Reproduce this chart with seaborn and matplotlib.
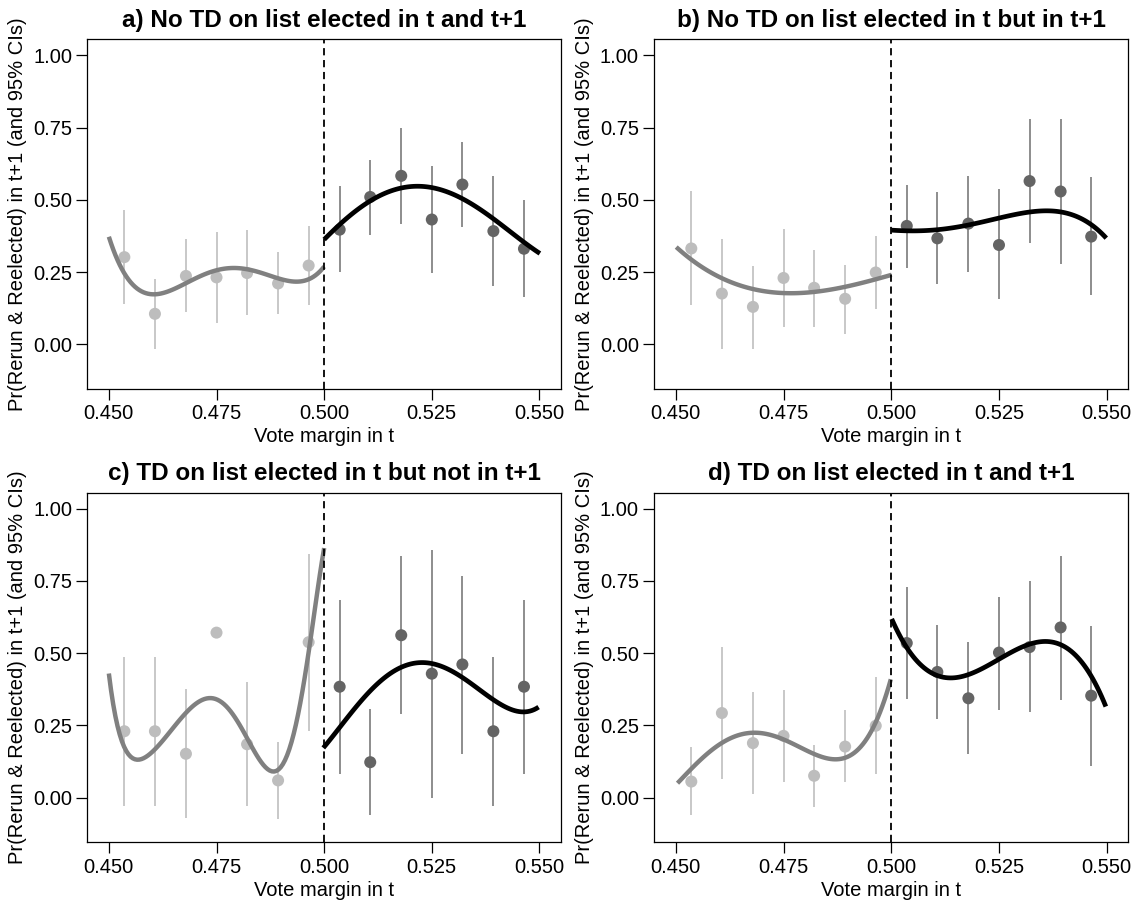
import numpy as np
import pandas as pd
import matplotlib
matplotlib.use("Agg")
import matplotlib.pyplot as plt
import seaborn as sns

# ---------------- data ----------------
titles = ["a) No TD on list elected in t and t+1",
          "b) No TD on list elected in t but in t+1",
          "c) TD on list elected in t but not in t+1",
          "d) TD on list elected in t and t+1"]

left_x = [0.4536, 0.4607, 0.4679, 0.4750, 0.4821, 0.4893, 0.4964]
right_x = [0.5036, 0.5107, 0.5179, 0.5250, 0.5321, 0.5393, 0.5464]

x_ticks = [0.450, 0.475, 0.500, 0.525, 0.550]
x_tick_labels = ["0.450", "0.475", "0.500", "0.525", "0.550"]
y_ticks = [0.00, 0.25, 0.50, 0.75, 1.00]
y_tick_labels = ["0.00", "0.25", "0.50", "0.75", "1.00"]

# panel a
a_left_y = [0.302, 0.106, 0.237, 0.232, 0.247, 0.211, 0.273]
a_left_lo = [0.139, -0.014, 0.111, 0.075, 0.101, 0.105, 0.135]
a_left_hi = [0.464, 0.226, 0.365, 0.389, 0.395, 0.319, 0.408]
a_right_y = [0.397, 0.510, 0.583, 0.432, 0.553, 0.392, 0.331]
a_right_lo = [0.251, 0.379, 0.416, 0.248, 0.406, 0.203, 0.165]
a_right_hi = [0.547, 0.637, 0.750, 0.616, 0.699, 0.581, 0.499]
a_lcurve_x = [0.4500, 0.4535, 0.4564, 0.4603, 0.4679, 0.4797, 0.4893, 0.4936, 0.5000]
a_lcurve_y = [0.372, 0.251, 0.194, 0.170, 0.216, 0.263, 0.225, 0.222, 0.268]
a_rcurve_x = [0.5000, 0.5036, 0.5107, 0.5216, 0.5321, 0.5393, 0.5447, 0.5501]
a_rcurve_y = [0.364, 0.412, 0.499, 0.545, 0.505, 0.435, 0.372, 0.315]

# panel b
b_left_y = [0.332, 0.176, 0.130, 0.230, 0.196, 0.158, 0.249]
b_left_lo = [0.135, -0.016, -0.016, 0.061, 0.059, 0.037, 0.122]
b_left_hi = [0.530, 0.366, 0.273, 0.399, 0.328, 0.276, 0.376]
b_right_y = [0.410, 0.367, 0.418, 0.344, 0.565, 0.529, 0.373]
b_right_lo = [0.264, 0.209, 0.249, 0.156, 0.351, 0.278, 0.171]
b_right_hi = [0.551, 0.526, 0.583, 0.537, 0.778, 0.780, 0.578]
b_lcurve_x = [0.4501, 0.4607, 0.4679, 0.4750, 0.4821, 0.4893, 0.4964, 0.5001]
b_lcurve_y = [0.338, 0.225, 0.194, 0.180, 0.182, 0.197, 0.225, 0.242]
b_rcurve_x = [0.5000, 0.5036, 0.5106, 0.5178, 0.5250, 0.5321, 0.5371, 0.5393, 0.5464, 0.5499]
b_rcurve_y = [0.394, 0.395, 0.397, 0.412, 0.435, 0.458, 0.464, 0.462, 0.406, 0.372]

# panel c
c_left_y = [0.230, 0.230, 0.152, 0.571, 0.185, 0.060, 0.538]
c_left_lo = [-0.030, -0.030, -0.070, np.nan, -0.030, -0.073, 0.230]
c_left_hi = [0.488, 0.488, 0.376, np.nan, 0.402, 0.194, 0.844]
c_right_y = [0.384, 0.123, 0.562, 0.429, 0.461, 0.230, 0.384]
c_right_lo = [0.083, -0.058, 0.288, -0.002, 0.152, -0.030, 0.083]
c_right_hi = [0.683, 0.306, 0.835, 0.858, 0.767, 0.488, 0.683]
c_lcurve_x = [0.4500, 0.4527, 0.4574, 0.4651, 0.4732, 0.4813, 0.4894, 0.4914,
              0.4932, 0.4948, 0.4966, 0.4983, 0.5000]
c_lcurve_y = [0.429, 0.212, 0.131, 0.246, 0.345, 0.224, 0.116, 0.131,
              0.235, 0.350, 0.538, 0.696, 0.863]
c_rcurve_x = [0.4998, 0.5037, 0.5106, 0.5222, 0.5323, 0.5392, 0.5465, 0.5498]
c_rcurve_y = [0.172, 0.246, 0.367, 0.468, 0.414, 0.339, 0.298, 0.313]

# panel d
d_left_y = [0.056, 0.293, 0.189, 0.214, 0.076, 0.177, 0.249]
d_left_lo = [-0.060, 0.065, 0.013, 0.054, -0.032, 0.053, 0.081]
d_left_hi = [0.177, 0.523, 0.366, 0.372, 0.183, 0.304, 0.418]
d_right_y = [0.535, 0.435, 0.344, 0.502, 0.521, 0.589, 0.353]
d_right_lo = [0.341, 0.272, 0.153, 0.305, 0.297, 0.339, 0.111]
d_right_hi = [0.728, 0.597, 0.538, 0.694, 0.749, 0.835, 0.594]
d_lcurve_x = [0.4504, 0.4592, 0.4673, 0.4754, 0.4866, 0.4939, 0.4999]
d_lcurve_y = [0.051, 0.172, 0.227, 0.200, 0.128, 0.200, 0.408]
d_rcurve_x = [0.5001, 0.5039, 0.5128, 0.5247, 0.5351, 0.5440, 0.5498]
d_rcurve_y = [0.613, 0.523, 0.408, 0.477, 0.546, 0.466, 0.318]

curve_orders = {"a": (4, 4), "b": (3, 4), "c": (7, 4), "d": (4, 4)}

panels = {
    "a": (a_left_y, a_left_lo, a_left_hi, a_right_y, a_right_lo, a_right_hi,
          a_lcurve_x, a_lcurve_y, a_rcurve_x, a_rcurve_y),
    "b": (b_left_y, b_left_lo, b_left_hi, b_right_y, b_right_lo, b_right_hi,
          b_lcurve_x, b_lcurve_y, b_rcurve_x, b_rcurve_y),
    "c": (c_left_y, c_left_lo, c_left_hi, c_right_y, c_right_lo, c_right_hi,
          c_lcurve_x, c_lcurve_y, c_rcurve_x, c_rcurve_y),
    "d": (d_left_y, d_left_lo, d_left_hi, d_right_y, d_right_lo, d_right_hi,
          d_lcurve_x, d_lcurve_y, d_rcurve_x, d_rcurve_y),
}

# ---------------- style ----------------
sns.set_theme(style="ticks")
plt.rcParams["font.family"] = ["Liberation Sans", "DejaVu Sans"]
plt.rcParams["axes.linewidth"] = 0.9
plt.rcParams["text.color"] = "black"
plt.rcParams["axes.labelcolor"] = "black"
plt.rcParams["xtick.color"] = "black"
plt.rcParams["ytick.color"] = "black"

LEFT_PT = "#bdbdbd"
LEFT_CI = "#c4c4c4"
RIGHT_PT = "#646464"
RIGHT_CI = "#858585"
LEFT_LINE = "#808080"
RIGHT_LINE = "#000000"

fig = plt.figure(figsize=(11.4, 9.02), dpi=100)
positions = {
    "a": [0.0766, 0.5687, 0.4155, 0.3877],
    "b": [0.5739, 0.5687, 0.4158, 0.3877],
    "c": [0.0766, 0.0662, 0.4155, 0.3876],
    "d": [0.5739, 0.0662, 0.4158, 0.3876],
}

for key, title in zip(["a", "b", "c", "d"], titles):
    (ly, llo, lhi, ry, rlo, rhi, lcx, lcy, rcx, rcy) = panels[key]
    ax = fig.add_axes(positions[key])

    # confidence intervals
    ax.vlines(left_x, llo, lhi, colors=LEFT_CI, linewidth=1.3, zorder=1)
    ax.vlines(right_x, rlo, rhi, colors=RIGHT_CI, linewidth=1.3, zorder=1)

    # binned means
    sns.scatterplot(x=left_x, y=ly, ax=ax, color=LEFT_PT, s=75,
                    edgecolor="none", zorder=2)
    sns.scatterplot(x=right_x, y=ry, ax=ax, color=RIGHT_PT, s=75,
                    edgecolor="none", zorder=2)

    # polynomial fits
    lo_ord, ro_ord = curve_orders[key]
    sns.regplot(x=np.array(lcx), y=np.array(lcy), order=lo_ord, ci=None,
                scatter=False, truncate=True, ax=ax,
                line_kws=dict(color=LEFT_LINE, linewidth=3.2, zorder=3,
                              solid_capstyle="butt"))
    sns.regplot(x=np.array(rcx), y=np.array(rcy), order=ro_ord, ci=None,
                scatter=False, truncate=True, ax=ax,
                line_kws=dict(color=RIGHT_LINE, linewidth=3.4, zorder=3,
                              solid_capstyle="butt"))

    ax.axvline(0.5, color="black", linewidth=1.3, linestyle=(0, (4, 2.6)),
               zorder=4)

    ax.set_xlim(0.445, 0.555)
    ax.set_ylim(-0.154, 1.055)
    ax.set_xticks(x_ticks)
    ax.set_xticklabels(x_tick_labels)
    ax.set_yticks(y_ticks)
    ax.set_yticklabels(y_tick_labels)
    ax.tick_params(axis="both", direction="out", length=8, width=0.9,
                   labelsize=14.5, colors="black", pad=3)
    for sp in ax.spines.values():
        sp.set_visible(True)
        sp.set_color("black")
        sp.set_linewidth(0.9)
    ax.set_xlabel("Vote margin in t", fontsize=14.5, labelpad=3, color="black")
    ax.set_ylabel("Pr(Rerun & Reelected) in t+1 (and 95% CIs)", fontsize=14.5,
                  labelpad=4, color="black")
    ax.set_title(title, fontsize=17.5, fontweight="bold", pad=9, color="black")
    ax.grid(False)

fig.savefig("out.png", dpi=100)
